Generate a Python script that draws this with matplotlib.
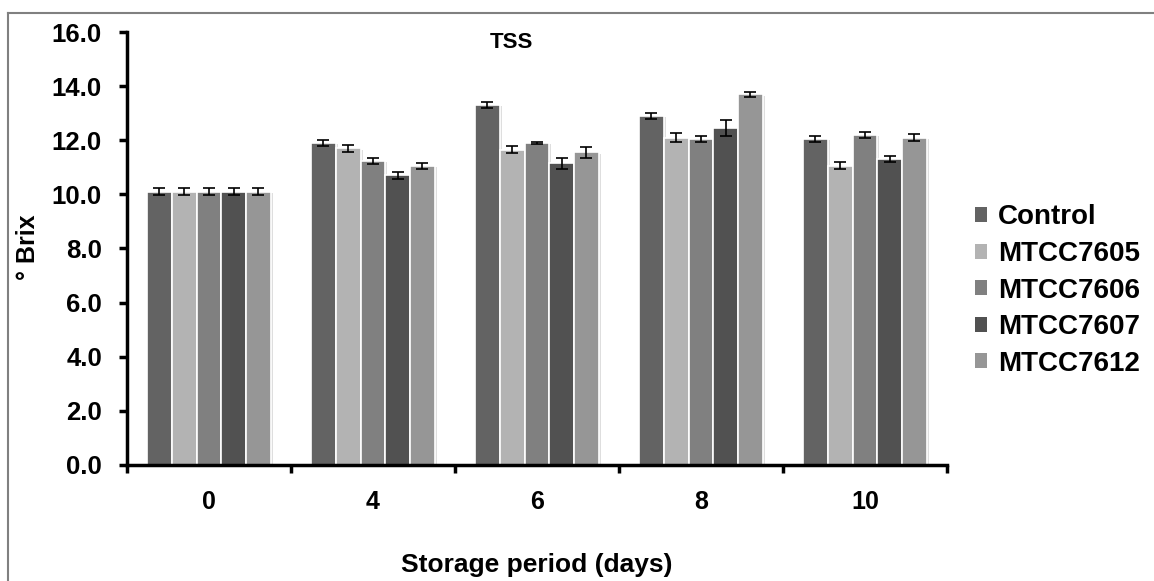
import numpy as np
import matplotlib.pyplot as plt
import matplotlib.patheffects as pe
from matplotlib.lines import Line2D

plt.rcParams['font.family'] = ['Liberation Sans', 'DejaVu Sans']
plt.rcParams['font.weight'] = 'bold'

# Data
days = ['0', '4', '6', '8', '10']
series = ['Control', 'MTCC7605', 'MTCC7606', 'MTCC7607', 'MTCC7612']
control = [10.1, 11.9, 13.3, 12.9, 12.05]
mtcc7605 = [10.1, 11.7, 11.65, 12.1, 11.05]
mtcc7606 = [10.1, 11.25, 11.9, 12.05, 12.2]
mtcc7607 = [10.1, 10.7, 11.15, 12.45, 11.3]
mtcc7612 = [10.1, 11.05, 11.55, 13.7, 12.1]
err_control = [0.13, 0.11, 0.1, 0.12, 0.12]
err_7605 = [0.13, 0.12, 0.12, 0.18, 0.13]
err_7606 = [0.13, 0.11, 0.05, 0.12, 0.12]
err_7607 = [0.13, 0.12, 0.2, 0.31, 0.12]
err_7612 = [0.13, 0.12, 0.2, 0.1, 0.12]

values = [control, mtcc7605, mtcc7606, mtcc7607, mtcc7612]
errors = [err_control, err_7605, err_7606, err_7607, err_7612]
colors = ['#636363', '#b3b3b3', '#808080', '#515151', '#969696']

fig = plt.figure(figsize=(11.54, 5.81), dpi=100)
ax = fig.add_axes([0.110, 0.1997, 0.7106, 0.7452])

x = np.arange(len(days))
width = 0.151
for i, (vals, errs, c) in enumerate(zip(values, errors, colors)):
    pos = x + (i - 2) * width
    bars = ax.bar(pos, vals, width, color=c, edgecolor='white', linewidth=1.2,
                  label=series[i], zorder=2)
    for b in bars:
        b.set_path_effects([pe.SimplePatchShadow(offset=(1.5, -1), shadow_rgbFace='#c8c8c8', alpha=0.6),
                            pe.Normal()])
    ax.errorbar(pos, vals, yerr=errs, fmt='none', ecolor='black', elinewidth=1.2,
                capsize=4.5, capthick=1.2, zorder=3)

ax.set_xlim(-0.5, 4.5)
ax.set_ylim(0, 16)
ax.set_yticks(np.arange(0, 16.1, 2))
ax.set_yticklabels([f'{v:.1f}' for v in np.arange(0, 16.1, 2)])
ax.set_xticks(x)
ax.set_xticklabels(days)
ax.set_xticks(np.arange(-0.5, 4.6, 1), minor=True)
ax.tick_params(axis='x', which='major', length=0, pad=18, labelsize=18)
ax.tick_params(axis='x', which='minor', length=6, width=2.5, direction='out')
ax.tick_params(axis='y', length=6, width=2.5, direction='out', pad=12, labelsize=18.5)

for side in ['top', 'right']:
    ax.spines[side].set_visible(False)
for side in ['left', 'bottom']:
    ax.spines[side].set_linewidth(2.5)

fig.text(0.443, 0.926, 'TSS', ha='center', va='center', fontsize=16, fontweight='bold')
fig.text(0.465, 0.027, 'Storage period (days)', ha='center', va='center', fontsize=19, fontweight='bold')
fig.text(0.024, 0.575, '° Brix', ha='center', va='center', rotation=90, fontsize=18, fontweight='bold')

handles, labels = ax.get_legend_handles_labels()
leg = fig.legend(handles, labels, loc='center left', bbox_to_anchor=(0.823, 0.5),
                 frameon=False, fontsize=20, handlelength=0.45, handleheight=0.45,
                 handletextpad=0.4, labelspacing=0.38)
for h in leg.legend_handles:
    h.set_path_effects([])
    h.set_edgecolor('none')

# outer frame
fig.add_artist(Line2D([0.007, 1.0], [0.978, 0.978], color='#808080', lw=1.5, transform=fig.transFigure))
fig.add_artist(Line2D([0.007, 0.007], [0.0, 0.978], color='#808080', lw=1.5, transform=fig.transFigure))

fig.savefig('out.png', dpi=100)
